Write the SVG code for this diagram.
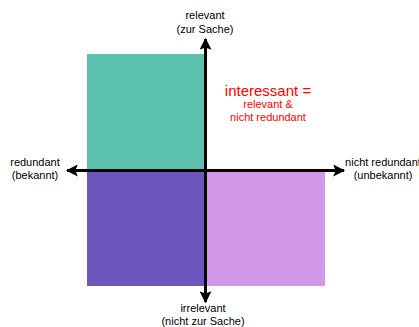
<svg xmlns="http://www.w3.org/2000/svg" width="419" height="327" viewBox="0 0 419 327">
<style>
text{font-family:"Liberation Sans",Arial,sans-serif;font-size:11px;fill:#000;text-anchor:middle}
.red{fill:#ff0000}
.axis{stroke:#000;stroke-width:3;fill:none}
</style>
<defs>
<marker id="ah" viewBox="0 0 10 10" refX="9" refY="5" markerWidth="4" markerHeight="4" orient="auto" markerUnits="strokeWidth">
<path d="M0,0 L10,5 L0,10 L2,5 z" fill="#000"/>
</marker>
</defs>
<rect width="419" height="327" fill="#fff"/>
<g id="q-teal"><rect x="87" y="54" width="118" height="116" fill="#5BC0AE"/></g>
<g id="q-purple"><rect x="87" y="170" width="118" height="116" fill="#6C57BE"/></g>
<g id="q-lilac"><rect x="205" y="170" width="120" height="116" fill="#D197E8"/></g>
<g id="connectors">
<line class="axis" x1="205.5" y1="170" x2="205.5" y2="39" marker-end="url(#ah)"/>
<line class="axis" x1="205.5" y1="170" x2="205.5" y2="302" marker-end="url(#ah)"/>
<line class="axis" x1="205.5" y1="170.5" x2="67" y2="170.5" marker-end="url(#ah)"/>
<line class="axis" x1="205.5" y1="170.5" x2="344" y2="170.5" marker-end="url(#ah)"/>
</g>
<g id="label-top"><text x="205" y="19">relevant</text><text x="205" y="33">(zur Sache)</text></g>
<g id="label-bottom"><text x="203" y="312">irrelevant</text><text x="203" y="325">(nicht zur Sache)</text></g>
<g id="label-left"><text x="35" y="166">redundant</text><text x="35" y="179">(bekannt)</text></g>
<g id="label-right"><text x="383" y="166">nicht redundant</text><text x="383" y="179">(unbekannt)</text></g>
<g id="label-interessant">
<text class="red" x="268" y="96" style="font-size:15px">interessant =</text>
<text class="red" x="268" y="108">relevant &amp;</text>
<text class="red" x="268" y="121">nicht redundant</text>
</g>
</svg>
